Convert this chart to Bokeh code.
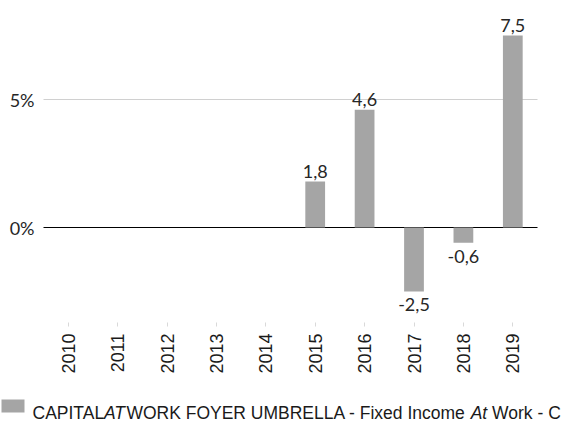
from bokeh.plotting import figure
from bokeh.models import Range1d, FixedTicker, ColumnDataSource
from bokeh.layouts import column
from bokeh.embed import file_html
from bokeh.resources import INLINE
from bokeh.core.properties import value
import math

# ---- data ----
years = ["2010", "2011", "2012", "2013", "2014", "2015", "2016", "2017", "2018", "2019"]
returns = [None, None, None, None, None, 1.8, 4.6, -2.5, -0.6, 7.5]
y_ticks = [0, 5]
y_tick_labels = ["0%", "5%"]
legend_pieces = ["CAPITAL", "AT", "WORK FOYER UMBRELLA - Fixed Income", "At", "Work - C"]
legend_italic = [False, True, False, True, False]

BAR = "#a5a5a5"
LABEL_FONT = "Lato"
W = 571
PX_PER_CAT = 49.4
LEFT_PAD = 43 / PX_PER_CAT
RIGHT_PAD = (W - 43 - 10 * PX_PER_CAT) / PX_PER_CAT

n = len(years)
centers = [i + 0.5 for i in range(n)]
bx = [c for c, r in zip(centers, returns) if r is not None]
vals = [r for r in returns if r is not None]
fmt = [("%.1f" % v).replace(".", ",") for v in vals]
src = ColumnDataSource(dict(x=bx, ret=vals, lab=fmt))
pos = ColumnDataSource(dict(x=[x for x, v in zip(bx, vals) if v >= 0],
                            ret=[v for v in vals if v >= 0],
                            lab=[l for l, v in zip(fmt, vals) if v >= 0]))
neg = ColumnDataSource(dict(x=[x for x, v in zip(bx, vals) if v < 0],
                            ret=[v for v in vals if v < 0],
                            lab=[l for l, v in zip(fmt, vals) if v < 0]))

p = figure(x_range=Range1d(-LEFT_PAD, n + RIGHT_PAD), y_range=Range1d(-3.711, 8.477),
           width=W, height=382, output_backend="svg", toolbar_location=None,
           y_axis_location=None,
           min_border_left=0, min_border_right=0, min_border_top=10, min_border_bottom=60)
p.outline_line_color = None
p.xgrid.visible = False
p.ygrid.visible = False

# gridline at 5% and zero line
p.segment(x0=[0], x1=[n], y0=[5], y1=[5], line_color="#d0d0d0", line_width=1)
p.segment(x0=[0], x1=[n], y0=[0], y1=[0], line_color="black", line_width=1)

# y tick labels
p.text(x=[-9 / PX_PER_CAT] * len(y_ticks), y=y_ticks, text=y_tick_labels,
       text_align="right", text_baseline="middle", text_font=value(LABEL_FONT),
       text_font_size="18px", text_color="#262626")

p.xaxis.ticker = FixedTicker(ticks=centers)
p.xaxis.major_label_overrides = {c: y for c, y in zip(centers, years)}
p.xaxis.minor_tick_line_color = None
p.xaxis.axis_line_color = None
p.xaxis.major_tick_line_color = "#d9d9d9"
p.xaxis.major_tick_out = 4
p.xaxis.major_tick_in = 0
p.xaxis.major_label_orientation = math.pi / 2
p.xaxis.major_label_standoff = 7
p.xaxis.major_label_text_font = "Liberation Sans"
p.xaxis.major_label_text_font_size = "18px"
p.xaxis.major_label_text_color = "#1a1a1a"

p.vbar(x="x", top="ret", width=0.4, source=src, fill_color=BAR, line_color=None)

p.text(x="x", y="ret", text="lab", source=pos, text_align="center",
       text_baseline="alphabetic", y_offset=-10, text_font=value(LABEL_FONT),
       text_font_size="18px", text_color="#262626")
p.text(x="x", y="ret", text="lab", source=neg, text_align="center",
       text_baseline="top", y_offset=7, text_font=value(LABEL_FONT),
       text_font_size="18px", text_color="#262626")

# ---- legend strip ----
LH = 39
leg = figure(width=W, height=LH, x_range=Range1d(0, W), y_range=Range1d(0, LH),
             output_backend="svg", toolbar_location=None, min_border=0,
             x_axis_location=None, y_axis_location=None)
leg.outline_line_color = None
leg.xgrid.visible = False
leg.ygrid.visible = False
leg.quad(left=1, right=24, bottom=9, top=22, fill_color=BAR, line_color=None)

piece_x = [32, 103.5, 125.9, 470.2, 491.6]
norm = ColumnDataSource(dict(x=[x for x, i in zip(piece_x, legend_italic) if not i],
                             t=[t for t, i in zip(legend_pieces, legend_italic) if not i]))
ital = ColumnDataSource(dict(x=[x for x, i in zip(piece_x, legend_italic) if i],
                             t=[t for t, i in zip(legend_pieces, legend_italic) if i]))
for s, st in ((norm, "normal"), (ital, "italic")):
    leg.text(x="x", y=9, text="t", source=s, text_align="left", text_baseline="alphabetic",
             text_font=value("Liberation Sans"), text_font_size="17.5px", text_font_style=st,
             text_color="#1a1a1a")

layout = column(p, leg, spacing=0)
open("out.html", "w").write(file_html(layout, INLINE))
